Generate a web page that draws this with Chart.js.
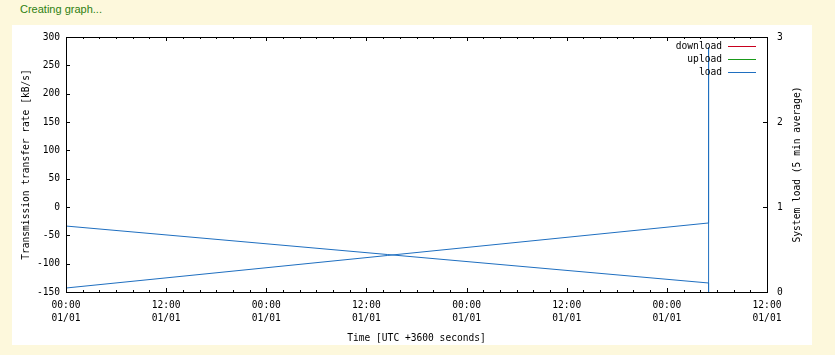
<!DOCTYPE html>
<html>
<head>
<meta charset="utf-8">
<title>Transmission</title>
<script src="https://cdn.jsdelivr.net/npm/chart.js@4.4.0/dist/chart.umd.min.js"></script>
<style>
    body { margin: 0; background: #fdf8dc; width: 835px; height: 355px; overflow: hidden; }
    #estado { position: absolute; left: 20px; top: 3px; font: 11px "Liberation Sans", Arial, sans-serif; color: #2f8010; }
    #panel { position: absolute; left: 12px; top: 25px; width: 800px; height: 320px; background: #fff; }
</style>
</head>
<body>
<div id="estado">Creating graph...</div>
<div id="panel"><canvas id="grafico" width="800" height="320"></canvas></div>
<script>
// Series (tiempo en horas desde el inicio)
var seriesNames = ['download', 'upload', 'load'];
var seriesColors = ['#c8001e', '#1a9a1a', '#1f6fc0'];
var downloadTimes = [];
var downloadValues = [];
var uploadTimes = [];
var uploadValues = [];
var loadTimes = [0, 77.0, 77.0, 77.0, 77.0, 0];
var loadValues = [0.776, 0.106, 0, 2.88, 0.812, 0.047];

// Marcas de los ejes
var xTickLabels = ['00:00', '12:00', '00:00', '12:00', '00:00', '12:00', '00:00', '12:00'];
var xTickDate = '01/01';
var xMax = 84;
var xStep = 12;
var xMinorStep = 2;
var rateMin = -150, rateMax = 300, rateStep = 50;
var loadMin = 0, loadMax = 3, loadStep = 1;
var loadTitle = 'System load (5 min average)';

document.addEventListener("DOMContentLoaded", function() {
    function puntos(xs, ys) {
        return xs.map(function(x, i) { return { x: x, y: ys[i] }; });
    }

    var fuente = { family: 'DejaVu Sans Mono', size: 9.6 };

    // Dibuja el marco, las marcas hacia dentro y la leyenda al estilo gnuplot
    var marcasPlugin = {
        id: 'marcas',
        afterDatasetsDraw: function(chart) {
            var ctx = chart.ctx;
            var a = chart.chartArea;
            var sx = chart.scales.x, sy = chart.scales.y, sy1 = chart.scales.y1;
            ctx.save();
            ctx.strokeStyle = '#000';
            ctx.lineWidth = 1;
            ctx.beginPath();
            for (var h = 0; h <= xMax; h += xMinorStep) {
                var px = Math.round(sx.getPixelForValue(h)) + 0.5;
                var len = (h % xStep === 0) ? 4 : 2;
                ctx.moveTo(px, a.bottom); ctx.lineTo(px, a.bottom - len);
                ctx.moveTo(px, a.top); ctx.lineTo(px, a.top + len);
            }
            for (var v = rateMin; v <= rateMax; v += rateStep) {
                var py = Math.round(sy.getPixelForValue(v)) + 0.5;
                ctx.moveTo(a.left, py); ctx.lineTo(a.left + 4, py);
            }
            for (var w = loadMin; w <= loadMax; w += loadStep) {
                var py1 = Math.round(sy1.getPixelForValue(w)) + 0.5;
                ctx.moveTo(a.right, py1); ctx.lineTo(a.right - 4, py1);
            }
            ctx.stroke();
            ctx.strokeRect(Math.round(a.left) + 0.5, Math.round(a.top) + 0.5,
                Math.round(a.right - a.left), Math.round(a.bottom - a.top));

            // Leyenda
            ctx.font = '9.6px "DejaVu Sans Mono"';
            ctx.textAlign = 'right';
            ctx.textBaseline = 'middle';
            for (var i = 0; i < seriesNames.length; i++) {
                var ly = Math.round(a.top + 9 + i * 13) + 0.5;
                ctx.fillStyle = '#000';
                ctx.fillText(seriesNames[i], a.right - 45, ly);
                ctx.strokeStyle = seriesColors[i];
                ctx.beginPath();
                ctx.moveTo(a.right - 39, ly);
                ctx.lineTo(a.right - 11, ly);
                ctx.stroke();
            }

            // Titulo del eje derecho, leido de abajo hacia arriba como en gnuplot
            ctx.translate(sy1.right - 15, (a.top + a.bottom) / 2);
            ctx.rotate(-Math.PI / 2);
            ctx.textAlign = 'center';
            ctx.fillStyle = '#000';
            ctx.fillText(loadTitle, 0, 0);
            ctx.restore();
        }
    };

    // Quita el relleno extra que Chart.js reserva arriba y abajo de los ejes verticales
    function ajustarVertical(ancho) {
        return function(scale) {
            scale.width = ancho;
            scale.paddingTop = 0;
            scale.paddingBottom = 0;
        };
    }

    var config = {
        type: 'scatter',
        data: {
            datasets: [
                { label: seriesNames[0], data: puntos(downloadTimes, downloadValues), yAxisID: 'y',
                  borderColor: seriesColors[0], showLine: true, pointRadius: 0, borderWidth: 1 },
                { label: seriesNames[1], data: puntos(uploadTimes, uploadValues), yAxisID: 'y',
                  borderColor: seriesColors[1], showLine: true, pointRadius: 0, borderWidth: 1 },
                { label: seriesNames[2], data: puntos(loadTimes, loadValues), yAxisID: 'y1',
                  borderColor: seriesColors[2], showLine: true, pointRadius: 0, borderWidth: 1 }
            ]
        },
        options: {
            responsive: false,
            animation: false,
            layout: { padding: { top: 12, left: 0, right: 0, bottom: 0 } },
            plugins: { legend: { display: false }, tooltip: { enabled: false } },
            scales: {
                x: {
                    type: 'linear',
                    min: 0,
                    max: xMax,
                    grid: { display: false, drawTicks: false },
                    border: { display: false },
                    ticks: {
                        stepSize: xStep,
                        maxRotation: 0,
                        autoSkip: false,
                        padding: 7,
                        color: '#000',
                        font: { family: fuente.family, size: fuente.size, lineHeight: 1.35 },
                        callback: function(value, index) {
                            return [xTickLabels[index], xTickDate];
                        }
                    },
                    title: {
                        display: true,
                        text: 'Time [UTC +3600 seconds]',
                        color: '#000',
                        font: fuente,
                        padding: { top: 0, bottom: 1 }
                    },
                    afterFit: function(scale) { scale.height = 53; }
                },
                y: {
                    position: 'left',
                    min: rateMin,
                    max: rateMax,
                    grid: { display: false, drawTicks: false },
                    border: { display: false },
                    ticks: { stepSize: rateStep, padding: 6, color: '#000', font: fuente },
                    title: {
                        display: true,
                        text: 'Transmission transfer rate [kB/s]',
                        color: '#000',
                        font: fuente,
                        padding: { top: 9, bottom: 0 }
                    },
                    afterFit: ajustarVertical(54)
                },
                y1: {
                    position: 'right',
                    min: loadMin,
                    max: loadMax,
                    grid: { display: false, drawTicks: false },
                    border: { display: false },
                    ticks: { stepSize: loadStep, padding: 10, color: '#000', font: fuente },
                    afterFit: ajustarVertical(45)
                }
            }
        },
        plugins: [marcasPlugin]
    };

    var ctx = document.getElementById('grafico').getContext('2d');
    var grafico = new Chart(ctx, config);
});
</script>
</body>
</html>
